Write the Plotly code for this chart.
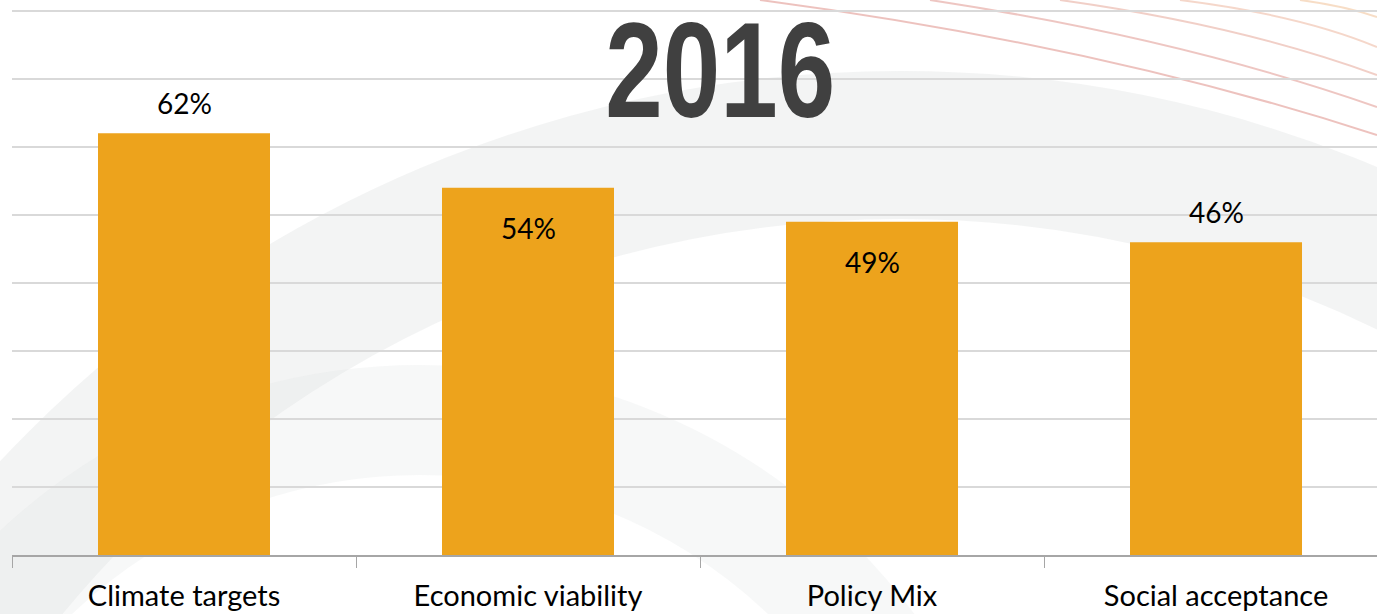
import plotly.graph_objects as go

categories = ["Climate targets", "Economic viability", "Policy Mix", "Social acceptance"]
values = [62, 54, 49, 46]
label_inside = [False, True, True, False]
title_text = "2016"

BAR_COLOR = "#EDA31C"
GRID_COLOR = "#D9D9D9"
AXIS_COLOR = "#A6A6A6"
FONT = "Lato, 'Noto Sans', sans-serif"

W, H = 1377, 614
ML, MB = 12, 59


def px(x, y):
    """pixel position -> paper coords (for the background decoration only)"""
    return (x - ML) / (W - ML), (H - MB - y) / (H - MB)


fig = go.Figure()

fig.add_trace(go.Bar(
    x=categories, y=values,
    marker=dict(color=BAR_COLOR, line=dict(width=0)),
    width=0.5,
    hoverinfo="skip",
))

# value labels: some above the bar, some just inside the top
for cat, v, inside in zip(categories, values, label_inside):
    fig.add_annotation(
        x=cat, y=v, text=f"{v}%", showarrow=False,
        yanchor="middle", yshift=-40 if inside else 30,
        font=dict(family=FONT, size=28, color="#000000"),
    )

# big year title (narrowed below with a small post script)
fig.add_annotation(
    xref="paper", yref="paper", x=px(720, 0)[0], y=px(0, 70)[1],
    text=f"<b>{title_text}</b>", showarrow=False,
    xanchor="center", yanchor="middle",
    font=dict(family="'Liberation Sans', Arial, sans-serif",
              size=136, color="#404040"),
)

# faint watermark behind the chart: grey rings + red/orange arcs
cx, cy, r = 900, 1304, 1159
x0, y0 = px(cx - r, cy + r)
x1, y1 = px(cx + r, cy - r)
fig.add_shape(type="circle", xref="paper", yref="paper",
              x0=x0, y0=y0, x1=x1, y1=y1,
              line=dict(color="rgba(225,227,227,0.40)", width=148),
              layer="below")
cx, cy, r = 420, 980, 560
x0, y0 = px(cx - r, cy + r)
x1, y1 = px(cx + r, cy - r)
fig.add_shape(type="circle", xref="paper", yref="paper",
              x0=x0, y0=y0, x1=x1, y1=y1,
              line=dict(color="rgba(225,227,227,0.25)", width=110),
              layer="below")

arcs = [
    ((760, 0), (1100, 45), (1377, 135), "rgba(215,120,110,0.45)"),
    ((930, 0), (1180, 38), (1377, 107), "rgba(215,120,110,0.42)"),
    ((1060, 0), (1240, 25), (1377, 75), "rgba(220,135,115,0.40)"),
    ((1180, 0), (1300, 15), (1377, 47), "rgba(228,150,115,0.38)"),
    ((1300, 0), (1345, 6), (1377, 17), "rgba(235,165,105,0.38)"),
]
for a, b, c, col in arcs:
    (ax_, ay_), (bx_, by_), (cx_, cy_) = px(*a), px(*b), px(*c)
    fig.add_shape(type="path", xref="paper", yref="paper",
                  path=f"M {ax_} {ay_} Q {bx_} {by_} {cx_} {cy_}",
                  line=dict(color=col, width=2), layer="below")

fig.update_layout(
    width=W, height=H,
    margin=dict(l=ML, r=0, t=0, b=MB),
    paper_bgcolor="#FFFFFF",
    plot_bgcolor="rgba(0,0,0,0)",
    showlegend=False,
    bargap=0.5,
    xaxis=dict(
        range=[-0.5, 3.468],
        showgrid=False, zeroline=False,
        showline=True, linecolor=AXIS_COLOR, linewidth=1.5,
        ticks="outside", tickson="boundaries", ticklen=11,
        tickcolor=AXIS_COLOR, tickwidth=1.2,
        tickfont=dict(family=FONT, size=29, color="#000000"),
        ticklabelstandoff=14,
    ),
    yaxis=dict(
        range=[0, 81.6], dtick=10,
        showgrid=True, gridcolor=GRID_COLOR, gridwidth=1.5,
        zeroline=False, showticklabels=False, showline=False,
    ),
)

post = """
document.body.style.margin = '0';
var gd = document.getElementById('{plot_id}');
gd.querySelectorAll('.annotation-text').forEach(function (t) {
  if (t.textContent === '%s') {
    var bb = t.getBBox();
    var c = bb.x + bb.width / 2;
    t.setAttribute('transform',
      'translate(' + c + ',0) scale(0.76,1) translate(' + (-c) + ',0)');
  }
});
""" % title_text

fig.write_html("out.html", post_script=post, config={"displayModeBar": False})
